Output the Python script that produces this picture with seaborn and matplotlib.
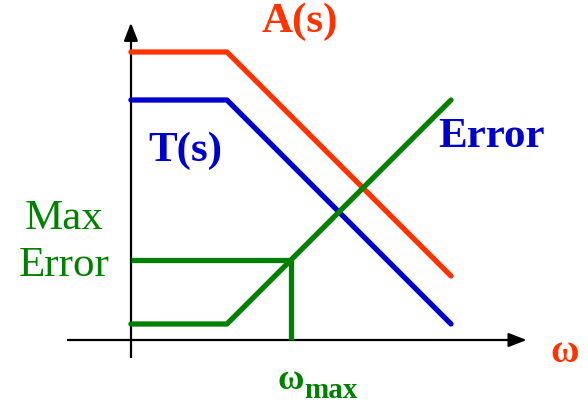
import matplotlib
matplotlib.use("Agg")
import matplotlib.pyplot as plt
import seaborn as sns
import pandas as pd

sns.set_theme(style="white")
plt.rcParams['font.family'] = ['Liberation Serif', 'DejaVu Serif']

# Data (schematic units)
x_knee = [0, 3, 10]
a_vals = [9, 9, 2]        # A(s)
t_vals = [7.5, 7.5, 0.5]  # T(s)
e_vals = [0.5, 0.5, 7.5]  # Error
w_max = 5
max_err = 2.5

RED = "#FF3300"
BLUE = "#0000CC"
GREEN = "#008000"

df = pd.DataFrame({
    "x": x_knee * 3,
    "y": a_vals + t_vals + e_vals,
    "s": ["A"] * 3 + ["T"] * 3 + ["E"] * 3,
})

fig = plt.figure(figsize=(5.88, 4.04), dpi=100)
ax = fig.add_axes([0, 0, 1, 1])
ax.set_xlim(-4.09, 14.28)
ax.set_ylim(-2.0, 10.625)
ax.axis("off")

# axes arrows
ax.plot([-2.0, 12.0], [0, 0], color="black", lw=1.6, solid_capstyle="butt", zorder=1)
ax.plot([0, 0], [-0.55, 9.6], color="black", lw=1.6, solid_capstyle="butt", zorder=1)
ax.annotate("", xy=(12.45, 0), xytext=(11.8, 0),
            arrowprops=dict(arrowstyle="-|>,head_length=0.9,head_width=0.35", color="black", lw=1.6))
ax.annotate("", xy=(0, 10.0), xytext=(0, 9.3),
            arrowprops=dict(arrowstyle="-|>,head_length=0.9,head_width=0.35", color="black", lw=1.6))

sns.lineplot(data=df, x="x", y="y", hue="s", palette={"A": RED, "T": BLUE, "E": GREEN},
             linewidth=3.8, legend=False, ax=ax, sort=False, zorder=3)

ax.plot([0, w_max], [max_err, max_err], color=GREEN, lw=3.8, solid_capstyle="butt", zorder=3)
ax.plot([w_max, w_max], [max_err, 0], color=GREEN, lw=3.8, solid_capstyle="butt", zorder=3)

ax.text(5.28, 9.94, "A(s)", color=RED, fontsize=31, fontweight="bold", ha="center", va="center")
ax.text(1.69, 5.9, "T(s)", color=BLUE, fontsize=31, fontweight="bold", ha="center", va="center")
ax.text(11.28, 6.34, "Error", color=BLUE, fontsize=31, fontweight="bold", ha="center", va="center")
ax.text(-2.1, 3.05, "Max\nError", color=GREEN, fontsize=31, ha="center", va="center", linespacing=1.28)
ax.text(13.56, -0.375, "ω", color=RED, fontsize=28, fontweight="bold", ha="center", va="center")
ax.text(5.0, -1.28, "ω", color=GREEN, fontsize=26, fontweight="bold", ha="center", va="center")
ax.text(6.25, -1.58, "max", color=GREEN, fontsize=21, fontweight="bold", ha="center", va="center")

fig.savefig("out.png", dpi=100)
